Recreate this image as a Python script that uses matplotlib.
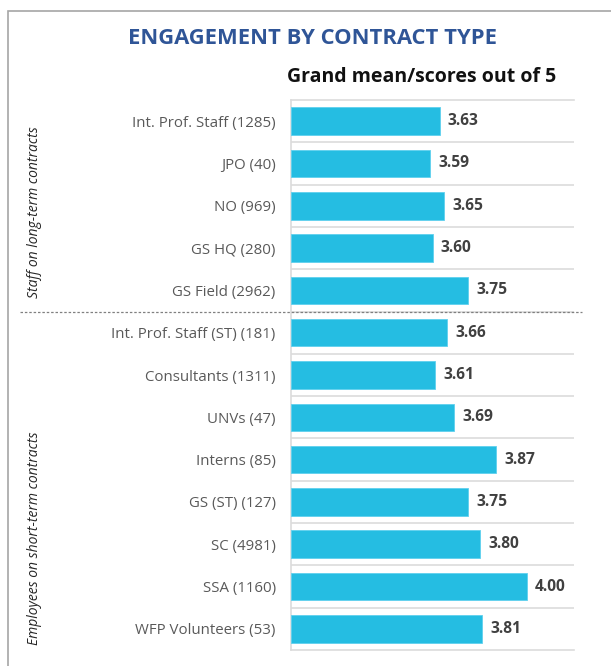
import matplotlib.pyplot as plt
from matplotlib.transforms import blended_transform_factory
from matplotlib.patches import Rectangle

# data
categories = ['Int. Prof. Staff (1285)', 'JPO (40)', 'NO (969)', 'GS HQ (280)',
              'GS Field (2962)', 'Int. Prof. Staff (ST) (181)', 'Consultants (1311)',
              'UNVs (47)', 'Interns (85)', 'GS (ST) (127)', 'SC (4981)',
              'SSA (1160)', 'WFP Volunteers (53)']
scores = [3.63, 3.59, 3.65, 3.60, 3.75, 3.66, 3.61, 3.69, 3.87, 3.75, 3.80, 4.00, 3.81]
groups = ['Staff on long-term contracts', 'Employees on short-term contracts']
n_long = 5

plt.rcParams['font.family'] = ['Open Sans', 'DejaVu Sans']

fig = plt.figure(figsize=(6.11, 6.66), dpi=100)

# frame round the chart
fig.patches.append(Rectangle((8 / 611, -0.05), 1.1, 1 - 11 / 666 + 0.05,
                             transform=fig.transFigure, fill=False,
                             edgecolor='#a6a6a6', linewidth=1.2))

ax = fig.add_axes([291 / 611, 1 - 650 / 666, 283 / 611, 550 / 666])

ypos = list(range(len(categories)))
ax.barh(ypos, [s - 3 for s in scores], left=3, height=0.65,
        color='#25bde2', edgecolor='#5fd0ee', linewidth=0.6, zorder=3)

for y, s in zip(ypos, scores):
    ax.annotate(f'{s:.2f}', (s, y), xytext=(6, 0), textcoords='offset points',
                va='center', ha='left', fontsize=11.2, fontweight='bold',
                color='#404040')

ax.set_xlim(3, 4.2)
ax.set_ylim(len(categories) - 0.5, -0.5)
ax.set_xticks([])
ax.set_yticks(ypos, categories, fontsize=10.8, color='#595959')
ax.set_yticks([y + 0.5 for y in ypos[:-1]], minor=True)
ax.tick_params(axis='y', which='both', length=0, pad=11)
ax.grid(axis='y', which='minor', color='#dcdcdc', linewidth=1.2)
for side in ['top', 'bottom', 'left']:
    ax.spines[side].set_color('#dcdcdc')
    ax.spines[side].set_linewidth(1.2)
ax.spines['right'].set_visible(False)

# dashed line between the groups
trans = blended_transform_factory(fig.transFigure, ax.transData)
ax.plot([20 / 611, 582 / 611], [n_long - 0.5, n_long - 0.5], transform=trans,
        linestyle=(0, (2, 1.5)), color='#808080', linewidth=0.9, clip_on=False,
        zorder=5)

fig.text(35 / 611, 1 - 212 / 666, groups[0], rotation=90, ha='center', va='center',
         fontsize=10, style='italic', color='#262626')
fig.text(35 / 611, 1 - 538 / 666, groups[1], rotation=90, ha='center', va='center',
         fontsize=10, style='italic', color='#262626')

fig.text(313 / 611, 1 - 39 / 666, 'ENGAGEMENT BY CONTRACT TYPE', ha='center',
         va='center', fontsize=15.8, fontweight='bold', color='#2f5597')
fig.text(422 / 611, 1 - 77 / 666, 'Grand mean/scores out of 5', ha='center',
         va='center', fontsize=14, fontweight='bold', color='#111111')

fig.savefig('out.png', dpi=100)
